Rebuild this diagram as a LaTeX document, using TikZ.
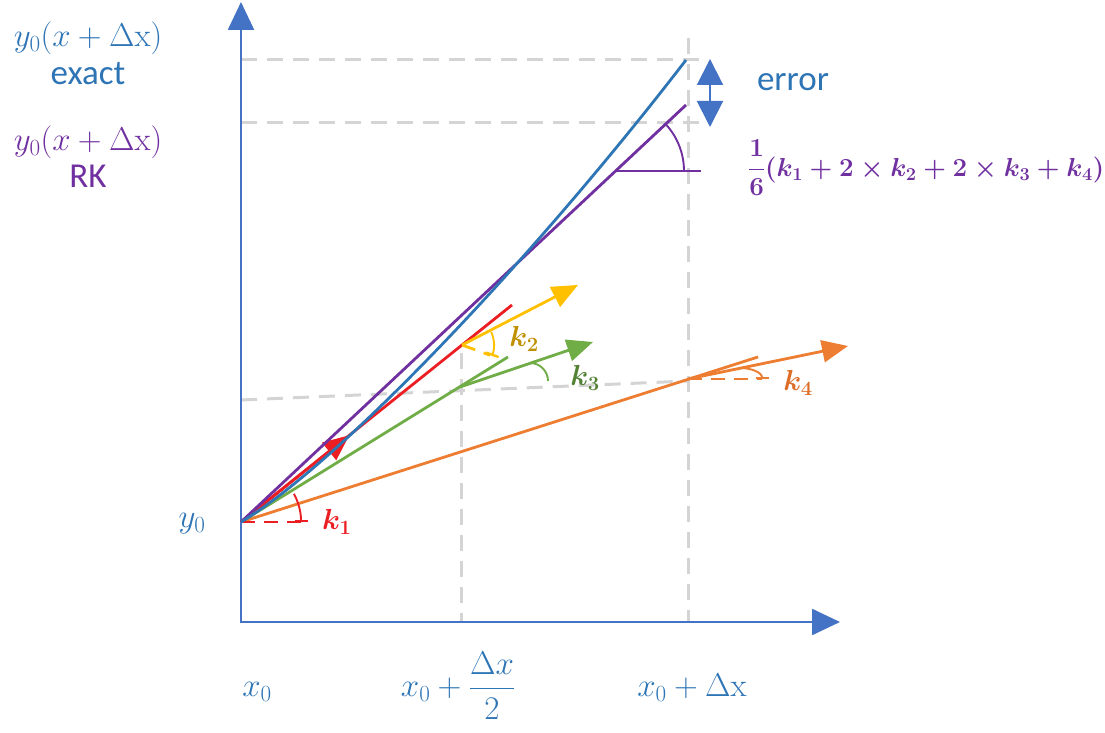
\RequirePackage{fix-cm}
\documentclass[tikz,border=0pt]{standalone}
\usepackage{amsmath}
\usepackage{fontspec}
\setsansfont{Carlito}
\usetikzlibrary{arrows.meta,positioning,calc}
\definecolor{axisblue}{RGB}{68,114,196}
\definecolor{exactblue}{RGB}{46,117,182}
\definecolor{rkpurple}{RGB}{112,48,160}
\definecolor{kred}{RGB}{235,30,36}
\definecolor{kyellow}{RGB}{255,192,0}
\definecolor{kgold}{RGB}{191,144,0}
\definecolor{kgreen}{RGB}{112,173,71}
\definecolor{kdkgreen}{RGB}{84,130,53}
\definecolor{korange}{RGB}{237,125,49}
\definecolor{kdkorange}{RGB}{220,110,40}
\definecolor{guidegrey}{RGB}{212,212,212}

\begin{document}
\begin{tikzpicture}[x=1pt,y=1pt,node distance=4pt,
  axis/.style={axisblue,line width=2.4pt,{Triangle[length=28pt,width=26pt]}-{Triangle[length=28pt,width=26pt]}},
  guide/.style={guidegrey,line width=3pt,dash pattern=on 16pt off 10pt},
  kline/.style={line width=2.8pt},
  kvec/.style={kline,-{Triangle[length=26pt,width=22pt]}},
  kref/.style={line width=2.8pt,dash pattern=on 14pt off 9pt},
  kang/.style={line width=1.9pt},
  kbar/.style={kang,-{Bar[width=13pt,line width=2.4pt]}},
  mlabel/.style={text=exactblue,font=\fontsize{33}{38}\selectfont,align=center,inner sep=0pt},
  tlabel/.style={text=exactblue,font=\fontsize{35}{40}\selectfont\sffamily,inner sep=0pt},
  klabel/.style={font=\fontsize{29}{32}\selectfont\boldmath,inner sep=0pt}]
  \useasboundingbox (0,0) rectangle (1105,733);

  \coordinate (A) at (241,111);
  \coordinate (ytop) at (241,731);
  \coordinate (xtop) at (840,111);
  \coordinate (O) at (241,211);

  \coordinate (xh) at (461,111);
  \coordinate (xht) at (461,380);
  \coordinate (xf) at (688,111);
  \coordinate (xft) at (688,695);
  \coordinate (gex) at (241,673);
  \coordinate (gexr) at (708,673);
  \coordinate (grk) at (241,610);
  \coordinate (grkr) at (708,610);
  \coordinate (glo) at (241,333);
  \coordinate (glor) at (688,352);

  \draw[guide] (xht) -- (xh);
  \draw[guide] (xft) -- (xf);
  \draw[guide] (gex) -- (gexr);
  \draw[guide] (grk) -- (grkr);
  \draw[guide] (glo) -- (glor);

  \draw[axis] (ytop) -- (A) -- (xtop);

  \coordinate (K4e) at (758,376);
  \coordinate (Q) at (688,354);
  \coordinate (K4t) at (848,387);
  \coordinate (K4r) at (762,354);
  \draw[kline,korange] (O) -- (K4e);
  \draw[kvec,korange] (Q) -- (K4t);
  \draw[kref,korange] (Q) -- (K4r);
  \draw[kbar,korange] (740,365) arc[start angle=90,end angle=0,x radius=22,y radius=11];

  \coordinate (K3e) at (508,376);
  \coordinate (G) at (460,346);
  \coordinate (K3t) at (593,391);
  \draw[kline,kgreen] (O) -- (K3e);
  \draw[kvec,kgreen] (G) -- (K3t);
  \draw[kang,kgreen] (530,370) arc[start angle=90,end angle=0,radius=18];

  \coordinate (K1e) at (512,428);
  \coordinate (M) at (462,388);
  \coordinate (K2t) at (578,448);
  \draw[kline,kred] (O) -- (K1e);
  \draw[kvec,kred] (O) -- ($(O)!0.40!(K1e)$);
  \draw[kref,kred] (O) -- (302,211) coordinate (K1r);
  \draw[kbar,kred] ($(O)+(28:60)$) arc[start angle=28,end angle=0,radius=60];

  \draw[kvec,kyellow] (M) -- (K2t);
  \draw[kref,kyellow] (M) -- ++(-20:30);
  \draw[kbar,kyellow] ($(M)+(24:32)$) arc[start angle=24,end angle=-20,radius=32];

  \coordinate (R) at (686,628);
  \coordinate (P) at (615,562);
  \draw[kline,rkpurple] (O) -- (R);
  \draw[kang,rkpurple] (P) -- (701,562);
  \draw[kang,rkpurple] ($(P)+(69,0)$) arc[start angle=0,end angle=43,radius=69];

  \coordinate (E) at (686,673);
  \draw[kline,exactblue] (O) .. controls (341,271) and (536,478) .. (E);

  \coordinate (errlo) at (710,606);
  \coordinate (errhi) at (710,674);
  \draw[axisblue,line width=2pt,{Triangle[length=26pt,width=26pt]}-{Triangle[length=26pt,width=26pt]}] (errlo) -- (errhi);

  \node[mlabel] (exactf) at (88,695) {$y_0(x+\Delta\mathrm{x})$};
  \node[tlabel] (exact) [below=8pt of exactf] {exact};
  \node[mlabel,text=rkpurple] (rkf) at (88,591) {$y_0(x+\Delta\mathrm{x})$};
  \node[tlabel,text=rkpurple] (rk) [below=6pt of rkf] {RK};
  \node[tlabel] (err) at (793,651) {error};
  \node[klabel,font=\fontsize{26}{30}\selectfont\boldmath,text=rkpurple,anchor=west] (avg) at (748,565)
    {$\displaystyle\frac{1}{6}(k_1+2\times k_2+2\times k_3+k_4)$};

  \node[mlabel] (y0) at (192,209) {$y_0$};
  \node[mlabel,anchor=base] (x0) at (257,36) {$x_0$};
  \node[mlabel,anchor=base] (xhalf) at (458,36) {$x_0+\dfrac{\Delta x}{2}$};
  \node[mlabel,anchor=base] (xfull) at (692,36) {$x_0+\Delta\mathrm{x}$};

  \node[klabel,text=kred] (k1) [right=20pt of K1r] {$k_1$};
  \node[klabel,text=kgold] (k2) at (524,394) {$k_2$};
  \node[klabel,text=kdkgreen] (k3) at (585,355) {$k_3$};
  \node[klabel,text=kdkorange] (k4) at (798,350) {$k_4$};
\end{tikzpicture}
\end{document}
